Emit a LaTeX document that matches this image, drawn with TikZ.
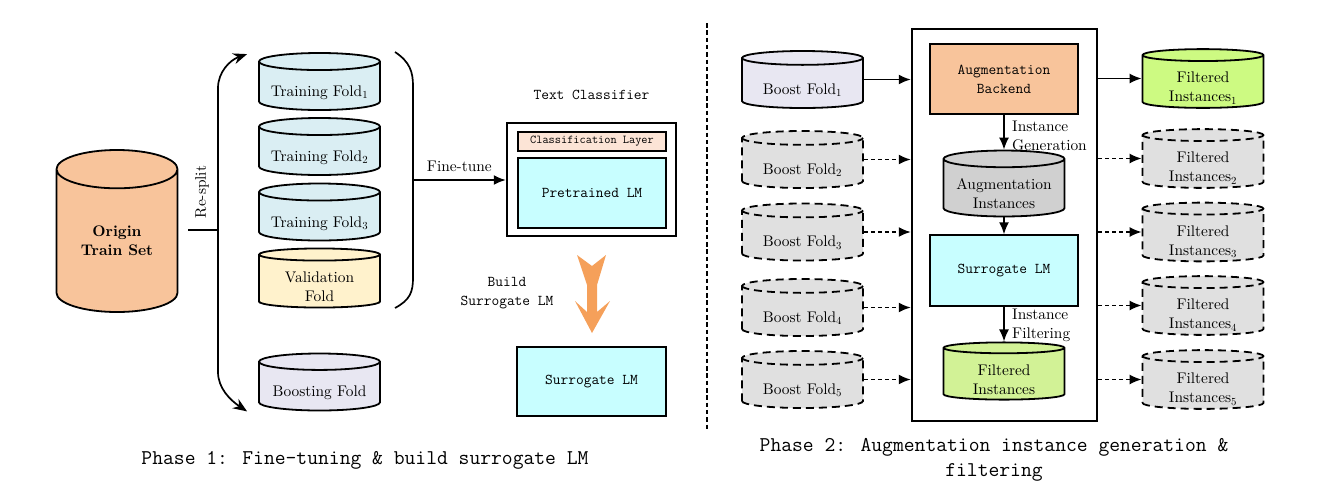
\RequirePackage{fix-cm}
\documentclass[tikz,border=0pt]{standalone}
\usepackage{fontspec}
\setmainfont{lmroman10-regular.otf}[BoldFont=lmroman10-bold.otf, ItalicFont=lmroman10-italic.otf]
\usetikzlibrary{shapes.geometric,arrows.meta,positioning}
\definecolor{peach}{RGB}{248,196,155}
\definecolor{foldblue}{RGB}{218,238,243}
\definecolor{valyellow}{RGB}{255,242,204}
\definecolor{lavender}{RGB}{232,231,242}
\definecolor{ghostgray}{RGB}{224,224,224}
\definecolor{midgray}{RGB}{208,208,208}
\definecolor{lmcyan}{RGB}{200,254,255}
\definecolor{layerpink}{RGB}{252,228,214}
\definecolor{brightgreen}{RGB}{205,250,130}
\definecolor{softgreen}{RGB}{210,242,150}
\definecolor{bigarrow}{RGB}{245,160,90}
\tikzset{
  txt/.style={font=\fontsize{15.4}{19}\selectfont, align=center, inner sep=0pt},
  mono/.style={font=\fontsize{15}{19}\selectfont\ttfamily, align=center, inner sep=0pt},
  db/.style={cylinder, shape border rotate=90, draw, line width=1.8pt, shape aspect=0.175,
    minimum width=121pt, minimum height=57pt, inner sep=0pt, align=center, anchor=shape center,
    font=\fontsize{15.4}{19}\selectfont, execute at begin node={\rule{0pt}{24pt}}},
  db2/.style={db, execute at begin node={}, text height=40pt, text depth=0pt},
  ghost/.style={dash pattern=on 8pt off 5pt, fill=ghostgray},
  blk/.style={draw, line width=1.4pt, inner sep=0pt, mono},
  frame/.style={draw, line width=2.5pt, inner sep=0pt},
  arr/.style={line width=1.7pt, -{Latex[length=12pt,width=10pt]}},
  darr/.style={arr, dash pattern=on 4pt off 3pt},
}
\begin{document}
\begin{tikzpicture}[x=1pt, y=-1pt]
    \useasboundingbox (0,0) rectangle (1319,491);
    % Phase 1
    \node[db, shape aspect=0.53, minimum height=162pt, fill=peach, execute at begin node={},
        font=\fontsize{15.4}{19}\selectfont\bfseries] (origin) at (117,231) {Origin\\Train Set};
    \node[db, fill=foldblue] (tf1) at (319.5,81.5) {Training Fold$_1$};
    \node[db, fill=foldblue] (tf2) at (319.5,146.5) {Training Fold$_2$};
    \node[db, fill=foldblue] (tf3) at (319.5,212) {Training Fold$_3$};
    \node[db2, fill=valyellow] (val) at (319.5,278) {Validation\\Fold};
    \node[db, fill=lavender] (boosting) at (319.5,382) {Boosting Fold};
    % Re-split
    \coordinate (split) at (218,230);
    \coordinate (up) at ([xshift=-11pt,yshift=-2pt]tf1.west |- tf1.north);
    \coordinate (down) at ([xshift=-11pt]boosting.west |- boosting.south);
    \draw[line width=1.7pt] ([xshift=10pt]origin.east |- split) -- (split);
    \draw[arr, -{Stealth[length=14pt,width=11pt]}] (split) -- (218,88) .. controls (218,72) and (230,60) .. (up);
    \draw[arr, -{Stealth[length=14pt,width=11pt]}] (split) -- (218,372) .. controls (218,388) and (230,400) .. (down);
    \node[txt, rotate=90] (resplit) at (202,192) {Re-split};
    % bracket
    \coordinate (brk) at (413,180);
    \draw[line width=1.7pt] (395,52) .. controls (410,62) and (413,72) .. (413,86)
        -- (413,278) .. controls (413,292) and (410,300) .. (395,308);
    % text classifier
    \node[frame, minimum width=169pt, minimum height=113pt] (clf) at (591.5,179.5) {};
    \node[mono] (clftitle) at (591.5,95) {Text Classifier};
    \node[blk, fill=layerpink, minimum width=148pt, minimum height=19pt,
        font=\fontsize{12}{14}\selectfont\ttfamily] (layer) at (592,141.5) {Classification Layer};
    \node[blk, fill=lmcyan, minimum width=148pt, minimum height=70pt] (plm) at (592,193) {Pretrained LM};
    \draw[arr] (brk) -- (brk -| clf.west) node[txt, midway, above=7pt] (ftune) {Fine-tune};
    % build surrogate
    \node[blk, fill=lmcyan, minimum width=149pt, minimum height=69pt] (surr) at (591.5,381.5) {Surrogate LM};
    \fill[bigarrow] (577,255) -- (592,266) -- (606,255) -- (597,285) -- (597,312) -- (610,301)
        -- (592,333) -- (575,301) -- (587,312) -- (587,285) -- cycle;
    \node[mono] (buildlbl) at (507,293) {Build\\Surrogate LM};
    \node[mono, font=\fontsize{21}{25}\selectfont\ttfamily] (cap1) at (365,460)
        {Phase 1: Fine-tuning \& build surrogate LM};
    % separator
    \draw[line width=2.8pt, dash pattern=on 4.5pt off 2.8pt] (707,23) -- (707,430);
    % Phase 2
    \node[frame, minimum width=185pt, minimum height=392pt] (box) at (1004.5,225) {};
    \node[db, fill=lavender] (bf1) at (802.5,79.5) {Boost Fold$_1$};
    \foreach \i/\y in {2/159.5,3/232,4/307.5,5/379.5}
        \node[db, ghost] (bf\i) at (802.5,\y) {Boost Fold$_\i$};
    \node[db2, fill=brightgreen] (fi1) at (1203,78.5) {Filtered\\Instances$_1$};
    \foreach \i/\y in {2/158.5,3/232,4/305.5,5/379.5}
        \node[db2, ghost] (fi\i) at (1203,\y) {Filtered\\Instances$_\i$};
    \draw[arr] (bf1.east |- bf1.shape center) -- (bf1.shape center -| box.west);
    \draw[arr] (fi1.shape center -| box.east) -- (fi1.west |- fi1.shape center);
    \foreach \i in {2,...,5} {
        \draw[darr] (bf\i.east |- bf\i.shape center) -- (bf\i.shape center -| box.west);
        \draw[darr] (fi\i.shape center -| box.east) -- (fi\i.west |- fi\i.shape center);
    }
    % inside the box
    \node[blk, fill=peach, minimum width=148pt, minimum height=70pt] (backend) at (1004,79) {Augmentation\\Backend};
    \node[db2, fill=midgray] (auginst) at (1004,183.5) {Augmentation\\Instances};
    \node[blk, fill=lmcyan, minimum width=148pt, minimum height=71pt] (surr2) at (1004,270.5) {Surrogate LM};
    \node[db2, fill=softgreen] (filt) at (1004,371) {Filtered\\Instances};
    \draw[arr] (backend.south) -- (backend.south |- auginst.north);
    \draw[arr] (auginst.south) -- (auginst.south |- surr2.north);
    \draw[arr] (surr2.south) -- (surr2.south |- filt.north);
    \node[txt, align=left, anchor=west] (gen) at (1012,136) {Instance\\Generation};
    \node[txt, align=left, anchor=west] (filtlbl) at (1012,325) {Instance\\Filtering};
    \node[mono, font=\fontsize{21}{25}\selectfont\ttfamily] (cap2) at (994,460)
        {Phase 2: Augmentation instance generation \&\\filtering};
\end{tikzpicture}
\end{document}
